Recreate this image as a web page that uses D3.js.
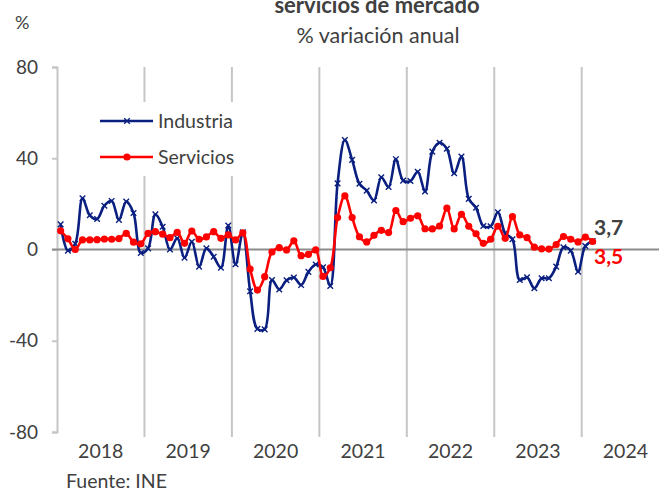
<!DOCTYPE html>
<html>
<head>
<meta charset="utf-8">
<script src="https://cdn.jsdelivr.net/npm/d3@7"></script>
<style>
  body { margin: 0; background: #fff; }
  svg { display: block; font-family: Lato, "Open Sans", sans-serif; }
</style>
</head>
<body>
<div class="chart"></div>
<script>
var years = ['2018', '2019', '2020', '2021', '2022', '2023', '2024'];
var yTicks = [-80, -40, 0, 40, 80];

// monthly values, Jan 2018 - Feb 2024
var industria = [
  11, -0.5, 2.5, 22.5, 15, 13.4, 19.2, 21.3, 13, 21, 16, -1.5,
  0.5, 15.4, 10, 0, 4.9, -3.6, 3.4, -7.5, 0.5, -3.2, -8, 10.5,
  -6.5, 7.5, -18.3, -34.8, -35, -13.4, -17.5, -13.5, -12.3, -15.6, -9.8, -6.6,
  -7.8, -16, 29, 48, 39.3, 28.8, 25.8, 21.5, 31.7, 27.4, 39.6, 30.2,
  30, 34.1, 25.4, 42.9, 46.8, 44.2, 33.4, 40.7, 22.2, 18.3, 10.3, 10.2,
  16.3, 7.1, 4.5, -13.4, -12.2, -17, -12.6, -12.6, -7.5, 1, -0.5, -9.7,
  1.5, 3.7
];
var servicios = [
  8.2, 4.7, 0, 4.2, 4.2, 4.3, 4.6, 4.5, 4.8, 7.1, 3.2, 2.5,
  7.1, 7.8, 6.7, 5.2, 7.5, 2.7, 8.1, 4.5, 5.5, 7.8, 4.9, 6.4,
  4.2, 7.3, -8.6, -17.8, -11.9, -1.1, 0.8, -0.2, 3.8, -2.7, -2.1, -0.2,
  -11.8, -8, 14, 23.5, 14, 5.6, 3.3, 6.2, 8.4, 7.4, 17.1, 12.2,
  13.7, 14.8, 9.1, 9, 10.3, 18.1, 9, 15.4, 10.2, 6.9, 2.7, 4.5,
  10.2, 4.9, 14.4, 6.4, 5.2, 1, 0.3, 0.2, 2.2, 5.7, 4.5, 3.3,
  5.4, 3.5
];
var lastLabels = ['3,7', '3,5'];

var width = 659;
var height = 491;
var plot = {left: 57, top: 67, bottom: 432};

var x = d3.scaleBand()
  .domain(years)
  .range([plot.left, plot.left + 87.45 * years.length]);

var xMonth = i => x(years[Math.floor(i / 12)]) + (i % 12 + 0.5) * x.bandwidth() / 12;

var y = d3.scaleLinear()
  .domain([-80, 80])
  .range([plot.bottom, plot.top]);

var line = d3.line()
  .curve(d3.curveCatmullRom.alpha(0.5))
  .x((d, i) => xMonth(i))
  .y(d => y(d));

var svg = d3.select('.chart').append('svg')
  .attr('width', width)
  .attr('height', height);

var grey = '#c6c6c6';
var textColor = '#404040';

// title (first line cut off at the top)
svg.append('text')
  .attr('x', 377).attr('y', 13)
  .attr('text-anchor', 'middle')
  .attr('font-size', 22).attr('font-weight', 'bold')
  .attr('fill', textColor)
  .text('servicios de mercado');

svg.append('text')
  .attr('x', 378).attr('y', 43)
  .attr('text-anchor', 'middle')
  .attr('font-size', 21.5)
  .attr('fill', textColor)
  .text('% variación anual');

svg.append('text')
  .attr('x', 15).attr('y', 29)
  .attr('font-size', 18)
  .attr('fill', textColor)
  .text('%');

// year gridlines
svg.append('g')
  .selectAll('line')
  .data(years.slice(1))
  .enter().append('line')
    .attr('x1', d => x(d)).attr('x2', d => x(d))
    .attr('y1', plot.top).attr('y2', plot.bottom + 5)
    .attr('stroke', grey)
    .attr('stroke-width', 2);

// y axis
var gY = svg.append('g')
  .attr('transform', `translate(${plot.left}, 0)`)
  .call(d3.axisLeft(y).tickValues(yTicks).tickSize(5).tickPadding(14)
    .tickFormat(d => String(d)));

gY.select('.domain').attr('stroke', grey).attr('stroke-width', 2);
gY.selectAll('.tick line').attr('stroke', grey).attr('stroke-width', 2);
gY.selectAll('.tick text')
  .attr('font-size', 19)
  .attr('font-family', 'Lato, sans-serif')
  .attr('fill', textColor);

// zero line
svg.append('line')
  .attr('x1', plot.left - 5).attr('x2', width)
  .attr('y1', y(0)).attr('y2', y(0))
  .attr('stroke', '#8c8c8c')
  .attr('stroke-width', 2);

// x labels
svg.append('g')
  .selectAll('text')
  .data(years)
  .enter().append('text')
    .attr('x', d => x(d) + x.bandwidth() / 2)
    .attr('y', 458)
    .attr('text-anchor', 'middle')
    .attr('font-size', 19.5)
    .attr('fill', textColor)
    .text(d => d);

svg.append('text')
  .attr('x', 66).attr('y', 488)
  .attr('font-size', 19.5)
  .attr('fill', textColor)
  .text('Fuente: INE');

// series
var navy = '#0a1f80';
var red = '#ff0000';

svg.append('path')
  .attr('d', line(industria))
  .attr('fill', 'none')
  .attr('stroke', navy)
  .attr('stroke-width', 2.6);

var cross = d3.symbol().type(d3.symbolX).size(22);

svg.append('g')
  .selectAll('path')
  .data(industria)
  .enter().append('path')
    .attr('d', cross)
    .attr('transform', (d, i) => `translate(${xMonth(i)}, ${y(d)})`)
    .attr('fill', 'none')
    .attr('stroke', navy)
    .attr('stroke-width', 1.4);

svg.append('path')
  .attr('d', line(servicios))
  .attr('fill', 'none')
  .attr('stroke', red)
  .attr('stroke-width', 2.6);

svg.append('g')
  .selectAll('circle')
  .data(servicios)
  .enter().append('circle')
    .attr('cx', (d, i) => xMonth(i))
    .attr('cy', d => y(d))
    .attr('r', 3.6)
    .attr('fill', red);

// last values
svg.append('text')
  .attr('x', 594).attr('y', 235)
  .attr('font-size', 21).attr('font-weight', 'bold')
  .attr('fill', textColor)
  .text(lastLabels[0]);

svg.append('text')
  .attr('x', 594).attr('y', 264)
  .attr('font-size', 21).attr('font-weight', 'bold')
  .attr('fill', red)
  .text(lastLabels[1]);

// legend
var legend = svg.append('g');

legend.append('rect')
  .attr('x', 96).attr('y', 102)
  .attr('width', 145).attr('height', 74)
  .attr('fill', '#fff');

var legendItems = [
  {name: 'Industria', color: navy, y: 121},
  {name: 'Servicios', color: red, y: 157}
];

legendItems.forEach(function(item, k) {
  legend.append('line')
    .attr('x1', 100).attr('x2', 153)
    .attr('y1', item.y).attr('y2', item.y)
    .attr('stroke', item.color)
    .attr('stroke-width', 2.6);
  if (k === 0) {
    legend.append('path')
      .attr('d', cross)
      .attr('transform', `translate(127, ${item.y})`)
      .attr('fill', 'none')
      .attr('stroke', item.color)
      .attr('stroke-width', 1.4);
  } else {
    legend.append('circle')
      .attr('cx', 127).attr('cy', item.y)
      .attr('r', 3.6)
      .attr('fill', item.color);
  }
  legend.append('text')
    .attr('x', 158).attr('y', item.y + 7)
    .attr('font-size', 19.5)
    .attr('fill', textColor)
    .text(item.name);
});
</script>
</body>
</html>
